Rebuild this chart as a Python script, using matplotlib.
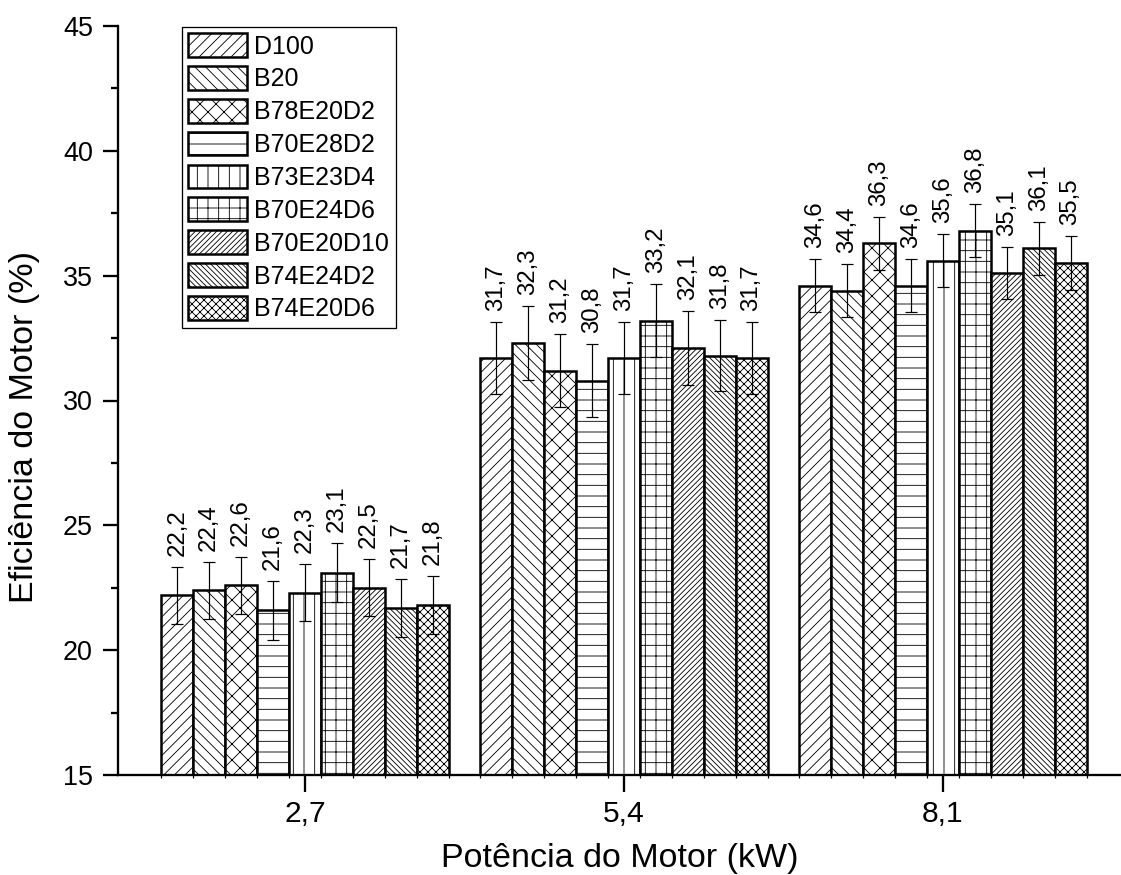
import matplotlib
matplotlib.use("Agg")
import matplotlib.pyplot as plt

# data
potencia = ['2,7', '5,4', '8,1']
misturas = ['D100', 'B20', 'B78E20D2', 'B70E28D2', 'B73E23D4',
            'B70E24D6', 'B70E20D10', 'B74E24D2', 'B74E20D6']
ef_27 = [22.2, 22.4, 22.6, 21.6, 22.3, 23.1, 22.5, 21.7, 21.8]
ef_54 = [31.7, 32.3, 31.2, 30.8, 31.7, 33.2, 32.1, 31.8, 31.7]
ef_81 = [34.6, 34.4, 36.3, 34.6, 35.6, 36.8, 35.1, 36.1, 35.5]
err_27 = [1.15, 1.15, 1.15, 1.18, 1.15, 1.18, 1.15, 1.16, 1.16]
err_54 = [1.43, 1.47, 1.45, 1.46, 1.43, 1.45, 1.48, 1.43, 1.43]
err_81 = [1.06, 1.06, 1.06, 1.06, 1.07, 1.06, 1.05, 1.06, 1.07]

# hatch density depends on dpi (tile = dpi px), diagonal lines are 2x sparser
hachuras = ['/' * 6, '\\' * 6, 'x' * 4, '---', '|||', '+++',
            '/' * 12, '\\' * 12, 'x' * 8]

W, H = 1121, 875
dpi = 192


def pt(px):
    # pixels -> points at this dpi
    return px * 72.0 / dpi


plt.rcParams['font.family'] = ['Liberation Sans', 'DejaVu Sans']
plt.rcParams['hatch.linewidth'] = pt(0.85)
plt.rcParams['hatch.color'] = 'black'

fig = plt.figure(figsize=(W / dpi, H / dpi), dpi=dpi)
ax = fig.add_axes([118 / W, 100 / H, 1 - 118 / W, (775 - 26) / H])

largura = 0.1
barras = []
for i, nome in enumerate(misturas):
    vals = [ef_27[i], ef_54[i], ef_81[i]]
    errs = [err_27[i], err_54[i], err_81[i]]
    xs = [g + (i - 4) * largura for g in range(len(potencia))]
    b = ax.bar(xs, vals, largura, color='white', edgecolor='black',
               linewidth=pt(2.5), hatch=hachuras[i], label=nome, zorder=2)
    barras.append(b)
    ax.errorbar(xs, vals, yerr=errs, fmt='none', ecolor='black',
                elinewidth=pt(1.2), capsize=pt(6), capthick=pt(1.2), zorder=3)
    for x, v, e in zip(xs, vals, errs):
        ax.annotate(('%.1f' % v).replace('.', ','), xy=(x, v + e),
                    xytext=(0, pt(11)), textcoords='offset points',
                    rotation=90, ha='center', va='bottom', fontsize=pt(24))

ax.set_xlim(-0.586, 2.558)
ax.set_ylim(15, 45)
ax.set_yticks([15, 20, 25, 30, 35, 40, 45])
ax.set_yticks([17.5, 22.5, 27.5, 32.5, 37.5, 42.5], minor=True)
ax.set_xticks(range(len(potencia)))
ax.set_xticklabels(potencia)
bordas = [g + (k - 4.5) * largura for g in range(len(potencia)) for k in range(10)]
ax.set_xticks(bordas, minor=True)

ax.spines['top'].set_visible(False)
ax.spines['right'].set_visible(False)
for s in ['left', 'bottom']:
    ax.spines[s].set_linewidth(pt(2.3))

ax.tick_params(axis='y', which='major', length=pt(15), width=pt(2.3),
               labelsize=pt(27), pad=pt(10))
ax.tick_params(axis='y', which='minor', length=pt(7), width=pt(2.3))
ax.tick_params(axis='x', which='major', length=pt(17), width=pt(2.3),
               labelsize=pt(30), pad=pt(8))
ax.tick_params(axis='x', which='minor', length=pt(3), width=pt(1.2))

fig.text(25 / W, 1 - 427 / H, 'Eficiência do Motor (%)', rotation=90,
         ha='center', va='center', fontsize=pt(34))
fig.text(620 / W, 1 - 858 / H, 'Potência do Motor (kW)',
         ha='center', va='center', fontsize=pt(34))

leg = ax.legend(handles=barras, loc='upper left',
                bbox_to_anchor=(182 / W, 1 - 27 / H),
                bbox_transform=fig.transFigure, borderaxespad=0,
                fontsize=pt(25), handlelength=2.35, handleheight=1.08,
                labelspacing=0.3, handletextpad=0.3, borderpad=0.25,
                fancybox=False, framealpha=1, edgecolor='black')
leg.get_frame().set_linewidth(pt(1.3))

fig.savefig('out.png', dpi=dpi)
